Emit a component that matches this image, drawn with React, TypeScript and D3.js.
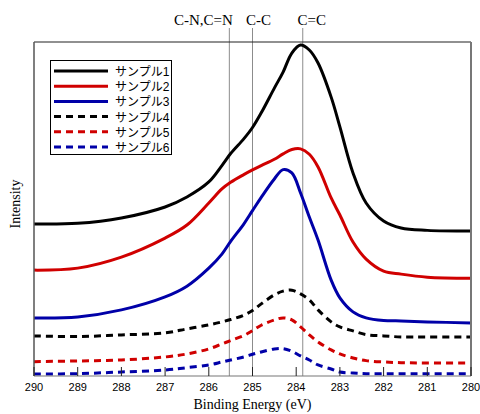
import React from "react";
import * as d3 from "d3";

// binding energies (eV) shared by all spectra
const energies = [290, 289, 288, 287, 286.5, 286, 285.7, 285.5, 285.2, 285.0, 284.8, 284.5, 284.3, 284.1, 283.9, 283.7, 283.5, 283.2, 283.0, 282.7, 282.4, 282.0, 281.6, 281.0, 280];

// intensities (a.u., offset per sample as in the figure)
const sample1 = [45.5, 45.7, 47.3, 50.6, 53.6, 58.1, 63.0, 66.6, 71.0, 74.4, 78.8, 86.2, 91.0, 96.7, 99.1, 97.6, 93.7, 83.5, 74.6, 60.8, 51.8, 46.4, 44.3, 43.6, 43.4];
const sample2 = [31.7, 32.3, 35.6, 41.3, 45.2, 51.8, 56.0, 58.0, 60.3, 61.7, 63.0, 64.9, 66.5, 67.8, 68.0, 66.4, 62.6, 53.3, 48.2, 40.1, 35.0, 31.4, 30.5, 29.6, 29.3];
const sample3 = [17.4, 17.7, 19.8, 23.7, 26.9, 32.3, 36.5, 40.3, 45.5, 49.5, 53.5, 59.0, 61.8, 60.8, 54.8, 47.6, 40.7, 28.7, 23.4, 19.2, 17.4, 16.6, 16.5, 16.2, 15.9];
const sample4 = [12.0, 11.8, 12.3, 12.9, 14.1, 15.3, 16.2, 16.9, 18.2, 19.6, 21.6, 24.3, 25.4, 25.7, 24.6, 22.8, 19.8, 16.2, 14.7, 13.5, 12.4, 12.0, 11.7, 11.7, 11.7];
const sample5 = [4.3, 4.5, 4.8, 5.7, 6.6, 8.1, 9.6, 10.6, 12.1, 13.6, 15.2, 16.8, 17.4, 16.8, 14.7, 12.3, 10.2, 7.8, 6.6, 5.4, 4.6, 4.2, 4.0, 3.9, 3.9];
const sample6 = [0.6, 0.7, 1.2, 1.8, 2.5, 3.3, 4.2, 4.8, 5.7, 6.5, 7.2, 8.1, 8.2, 7.4, 6.0, 4.8, 3.3, 2.1, 1.2, 0.9, 0.7, 0.7, 0.7, 0.7, 0.7];

const names = ["サンプル1", "サンプル2", "サンプル3", "サンプル4", "サンプル5", "サンプル6"];
const colors = ["#000000", "#d00000", "#0000a8", "#000000", "#d00000", "#0000a8"];
const dashed = [false, false, false, true, true, true];
const allSeries = [sample1, sample2, sample3, sample4, sample5, sample6];

const xTicks = [290, 289, 288, 287, 286, 285, 284, 283, 282, 281, 280];

// reference peak positions
const refEnergies = [285.53, 285.0, 283.85];
const refLabels = ["C-N,C=N", "C-C", "C=C"];
const refLabelShift = [-26, 6, 9];

export default function App() {
  const width = 480, height = 414;
  const left = 34, right = 471, top = 42, bottom = 376;

  const x = d3.scaleLinear().domain([290, 280]).range([left, right]);
  const y = d3.scaleLinear().domain([0, 100]).range([bottom, top]);

  const line = d3.line<number>()
    .x((d, i) => x(energies[i]))
    .y(d => y(d))
    .curve(d3.curveCatmullRom.alpha(0.5));

  const serif = "'Liberation Serif', 'Times New Roman', serif";
  const sans = "'Liberation Sans', Arial, 'Noto Sans CJK JP', sans-serif";

  return (
    <svg width={width} height={height} style={{ position: "absolute", left: 0, top: 0 }}>
      <rect x={0} y={0} width={width} height={height} fill="#fff" />

      {/* reference lines */}
      {refEnergies.map((e, i) => (
        <g key={"r" + i}>
          <line x1={x(e)} x2={x(e)} y1={28} y2={bottom} stroke="#8c8c8c" strokeWidth={1} />
          <text x={x(e) + refLabelShift[i]} y={25} textAnchor="middle" fontFamily={serif} fontSize={15} fill="#000">
            {refLabels[i]}
          </text>
        </g>
      ))}

      {/* spectra */}
      {allSeries.map((s, i) => (
        <path key={"s" + i} d={line(s) || ""} fill="none" stroke={colors[i]} strokeWidth={3}
          strokeDasharray={dashed[i] ? "7,5" : undefined} />
      ))}

      {/* frame */}
      <line x1={left} x2={right} y1={top} y2={top} stroke="#222" strokeWidth={1.2} />
      <line x1={left} x2={left} y1={top} y2={bottom} stroke="#555" strokeWidth={1.5} />
      <line x1={right} x2={right} y1={top} y2={bottom} stroke="#777" strokeWidth={2} />
      <line x1={left} x2={right} y1={bottom} y2={bottom} stroke="#777" strokeWidth={1.2} />

      {/* x ticks */}
      {xTicks.map(t => (
        <g key={"t" + t}>
          <line x1={x(t)} x2={x(t)} y1={bottom - 9} y2={bottom} stroke="#222" strokeWidth={1} />
          <text x={x(t)} y={391} textAnchor="middle" fontFamily={sans} fontSize={11} fill="#000">{t}</text>
        </g>
      ))}

      <text x={(left + right) / 2} y={409} textAnchor="middle" fontFamily={serif} fontSize={14} fill="#000">
        Binding Energy (eV)
      </text>
      <text transform={`translate(20,204) rotate(-90)`} textAnchor="middle" fontFamily={serif} fontSize={14} fill="#000">
        Intensity
      </text>

      {/* legend */}
      <rect x={50.5} y={60.5} width={121} height={94} fill="#fff" stroke="#000" strokeWidth={1} />
      {names.map((n, i) => {
        const cy = 71 + i * 15.2;
        return (
          <g key={"l" + i}>
            <line x1={54} x2={108} y1={cy} y2={cy} stroke={colors[i]} strokeWidth={3}
              strokeDasharray={dashed[i] ? "7,5" : undefined} />
            <text x={115} y={cy + 5} fontFamily={sans} fontSize={12} fill="#000">{n}</text>
          </g>
        );
      })}
    </svg>
  );
}
